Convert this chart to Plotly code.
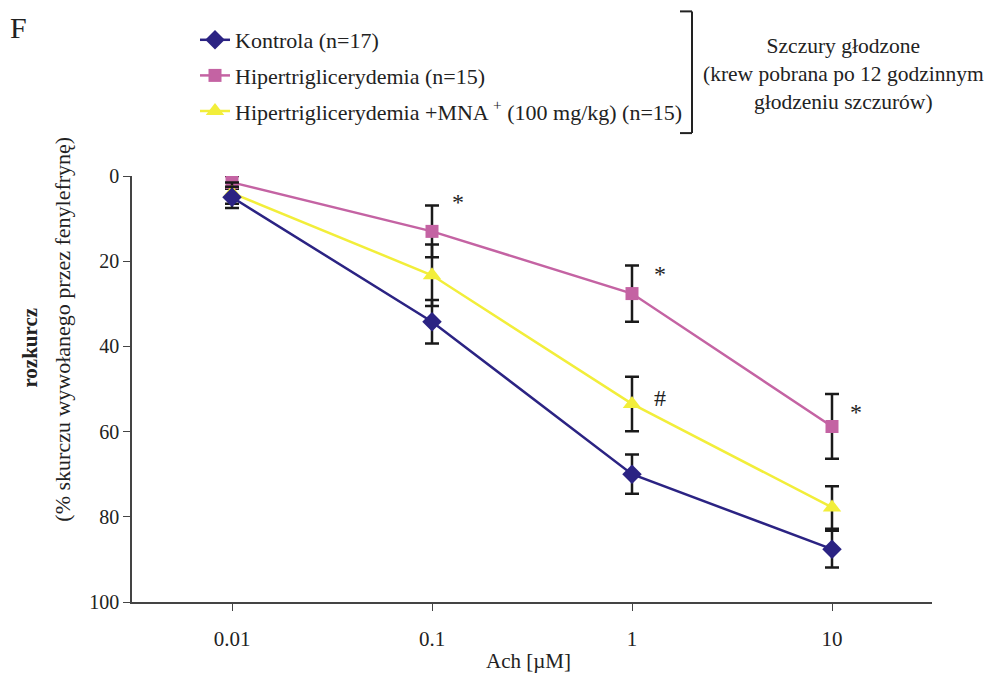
import plotly.graph_objects as go

categories = ["0.01", "0.1", "1", "10"]

kontrola = [5.0, 34.2, 70.0, 87.6]
kontrola_err = [2.5, 5.1, 4.6, 4.3]

hiper = [1.5, 13.0, 27.6, 58.8]
hiper_err = [1.5, 6.1, 6.6, 7.6]

mna = [4.0, 23.3, 53.5, 77.8]
mna_err = [2.5, 7.2, 6.4, 5.0]

y_ticks = [0, 20, 40, 60, 80, 100]

names = ["Kontrola (n=17)",
         "Hipertriglicerydemia (n=15)",
         "Hipertriglicerydemia +MNA <sup>+</sup> (100 mg/kg) (n=15)"]

# significance marks: (category position, y value, text)
sig_marks = [(1.13, 6.0, "*"), (2.14, 23.0, "*"), (3.12, 55.5, "*"), (2.14, 52.0, "#")]

FONT = "Liberation Serif"
NAVY = "#2B2383"
PINK = "#C463A3"
YELLOW = "#F2EE3A"
TXT = "#222222"

fig = go.Figure()

def add_series(y, err, name, color, symbol, size, rank):
    fig.add_trace(go.Scatter(
        x=categories, y=y, name=name, mode="lines+markers",
        legendgroup=name, legendrank=rank,
        line=dict(color=color, width=2.5),
        marker=dict(symbol=symbol, size=size, color=color),
        error_y=dict(type="data", array=err, visible=True,
                     color="#1a1a1a", thickness=2.5, width=7),
    ))

add_series(hiper, hiper_err, names[1], PINK, "square", 13, 2)
add_series(mna, mna_err, names[2], YELLOW, "triangle-up", 16, 3)
add_series(kontrola, kontrola_err, names[0], NAVY, "diamond", 15, 1)

# plot area: 800 x 427 px; page body adds 8px offset
fig.update_layout(
    width=987, height=667,
    margin=dict(l=124, r=63, t=167, b=73),
    paper_bgcolor="white", plot_bgcolor="white",
    font=dict(family=FONT, size=20, color=TXT),
    showlegend=True,
    legend=dict(
        x=(195 - 132) / 800, y=(602 - 19) / 427,
        xanchor="left", yanchor="top",
        font=dict(family=FONT, size=22, color=TXT),
        traceorder="grouped",
        tracegroupgap=4,
        bgcolor="rgba(0,0,0,0)",
    ),
    xaxis=dict(
        type="category", range=[-0.5, 3.5],
        showline=True, linecolor="#444444", linewidth=1.5,
        ticks="outside", ticklen=7, tickcolor="#444444",
        showgrid=False, zeroline=False,
        ticklabelstandoff=10,
        tickfont=dict(family=FONT, size=21, color=TXT),
    ),
    yaxis=dict(
        range=[100, 0], tickvals=y_ticks,
        showline=True, linecolor="#444444", linewidth=1.5,
        ticks="outside", ticklen=7, tickcolor="#444444",
        showgrid=False, zeroline=False,
        tickfont=dict(family=FONT, size=20, color=TXT),
    ),
)

for xo, yv, t in sig_marks:
    fig.add_annotation(x=xo, y=yv, xref="x", yref="y", text=t, showarrow=False,
                       xanchor="center", yanchor="middle",
                       font=dict(family=FONT, size=24, color=TXT))

# panel label
fig.add_annotation(x=-124 / 800, y=(602 - 8) / 427, xref="paper", yref="paper",
                   text="F", showarrow=False, xanchor="left", yanchor="top",
                   font=dict(family=FONT, size=30, color=TXT))

# axis titles
fig.add_annotation(x=(30 - 132) / 800, y=(602 - 347) / 427, xref="paper", yref="paper",
                   text="<b>rozkurcz</b>", textangle=-90, showarrow=False,
                   xanchor="center", yanchor="middle",
                   font=dict(family=FONT, size=21, color=TXT))
fig.add_annotation(x=(63 - 132) / 800, y=(602 - 329) / 427, xref="paper", yref="paper",
                   text="(% skurczu wywołanego przez fenylefrynę)", textangle=-90, showarrow=False,
                   xanchor="center", yanchor="middle",
                   font=dict(family=FONT, size=22, color=TXT))
fig.add_annotation(x=(528 - 132) / 800, y=(602 - 675) / 427, xref="paper", yref="paper",
                   text="Ach [µM]", showarrow=False, xanchor="center", yanchor="bottom",
                   font=dict(family=FONT, size=21, color=TXT))

# bracket
bx = (692 - 132) / 800
bx2 = (680 - 132) / 800
by1 = (602 - 10) / 427
by2 = (602 - 132) / 427
for seg in [(bx, by1, bx, by2), (bx2, by1, bx, by1), (bx2, by2, bx, by2)]:
    fig.add_shape(type="line", xref="paper", yref="paper",
                  x0=seg[0], y0=seg[1], x1=seg[2], y1=seg[3],
                  line=dict(color=TXT, width=2))

fig.add_annotation(x=(843 - 132) / 800, y=(602 - 73) / 427, xref="paper", yref="paper",
                   text="Szczury głodzone<br>(krew pobrana po 12 godzinnym<br>głodzeniu szczurów)",
                   align="center", showarrow=False, xanchor="center", yanchor="middle",
                   font=dict(family=FONT, size=21.5, color=TXT))

fig.write_html("out.html")
